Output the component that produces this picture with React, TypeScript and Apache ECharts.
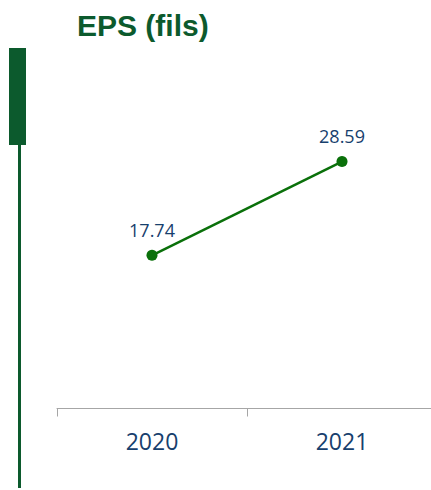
import React, { useEffect, useRef } from "react";
import * as echarts from "echarts";

const categories = ["2020", "2021"];
const epsValues = [17.74, 28.59];
const titleText = "EPS (fils)";

export default function App() {
  const ref = useRef<HTMLDivElement>(null);
  useEffect(() => {
    if (!ref.current) return;
    const chart = echarts.init(ref.current, null, { renderer: "svg" });
    chart.setOption({
      animation: false,
      backgroundColor: "#ffffff",
      grid: {
        left: 57,
        width: 380,
        top: 63,
        bottom: 81.5,
        containLabel: false,
        outerBoundsMode: "none",
      },
      xAxis: {
        type: "category",
        data: categories,
        boundaryGap: true,
        axisLine: { show: true, lineStyle: { color: "#a6a6a6", width: 1 } },
        axisTick: { show: true, length: 8, alignWithLabel: false, lineStyle: { color: "#a6a6a6" } },
        axisLabel: {
          color: "#17406d",
          fontFamily: "Open Sans",
          fontSize: 23,
          margin: 21,
        },
        splitLine: { show: false },
      },
      yAxis: {
        type: "value",
        min: 0,
        max: 40,
        show: false,
        splitLine: { show: false },
      },
      series: [
        {
          type: "line",
          data: epsValues,
          symbol: "circle",
          symbolSize: 11,
          lineStyle: { color: "#0a700a", width: 2.5 },
          itemStyle: { color: "#0a700a" },
          label: {
            show: true,
            position: "top",
            distance: 11,
            color: "#17406d",
            fontFamily: "Open Sans",
            fontSize: 18,
            formatter: (p: any) => p.value.toFixed(2),
          },
        },
      ],
      graphic: [
        {
          type: "text",
          left: 77,
          top: 10,
          style: {
            text: titleText,
            fill: "#0c5a2d",
            font: "bold 30px 'Liberation Sans', Arial, sans-serif",
          },
        },
        {
          type: "rect",
          shape: { x: 9, y: 48, width: 17, height: 97 },
          style: { fill: "#0c5a2d" },
        },
        {
          type: "rect",
          shape: { x: 18, y: 145, width: 3, height: 343 },
          style: { fill: "#0c5a2d" },
        },
      ],
    });
    return () => chart.dispose();
  }, []);
  return <div ref={ref} style={{ width: 431, height: 490, position: "absolute", left: 0, top: 0 }} />;
}
